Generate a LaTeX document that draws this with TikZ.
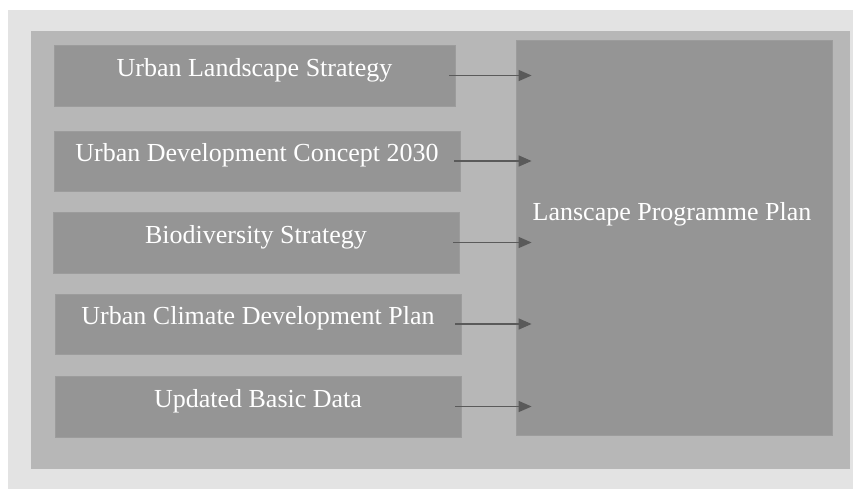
\documentclass[tikz,border=0pt]{standalone}
\usepackage{fontspec}
\setmainfont{Liberation Serif}
\usetikzlibrary{calc,arrows.meta}
\definecolor{back1}{HTML}{E3E3E3}
\definecolor{panel1}{HTML}{B7B7B7}
\definecolor{box1}{HTML}{959595}
\definecolor{edge1}{HTML}{9C9C9C}
\definecolor{arrow1}{HTML}{5A5A5A}

\begin{document}
\begin{tikzpicture}[x=1pt, y=-1pt,
  srcbox/.style={draw=edge1, line width=0.8pt, fill=box1, inner sep=0pt},
  boxtext/.style={text=white, inner sep=0pt, font=\fontsize{26}{30}\selectfont},
  flow/.style={arrow1, line width=1.3pt, -{Triangle[length=13pt,width=11pt]}}]

\useasboundingbox (0,0) rectangle (853,489);

% BACKGROUND
\fill[back1] (8,10) rectangle (853,489);
\fill[panel1] (31,31) rectangle (850,469);

% Source boxes (left column)
\node[srcbox, minimum width=401pt, minimum height=61pt] (urb) at (254.5,75.5) {};
\node[boxtext] (urb-t) at ($(urb)+(0,-5)$) {Urban Landscape Strategy};

\node[srcbox, minimum width=406pt, minimum height=60pt] (dev) at (257,161) {};
\node[boxtext] (dev-t) at ($(dev)+(0,-5.5)$) {Urban Development Concept 2030};

\node[srcbox, minimum width=406pt, minimum height=61pt] (bio) at (256,242.5) {};
\node[boxtext] (bio-t) at ($(bio)+(0,-5.5)$) {Biodiversity Strategy};

\node[srcbox, minimum width=406pt, minimum height=60pt] (clim) at (258,324) {};
\node[boxtext] (clim-t) at ($(clim)+(0,-5.5)$) {Urban Climate Development Plan};

\node[srcbox, minimum width=406pt, minimum height=61pt] (data) at (258,406.5) {};
\node[boxtext] (data-t) at ($(data)+(0,-5.5)$) {Updated Basic Data};

% Target box (right)
\node[srcbox, minimum width=316pt, minimum height=395pt] (plan) at (674,237.5) {};
\node[boxtext] (plan-t) at ($(plan)+(-2,-23.5)$) {Lanscape Programme Plan};

% Arrows
\foreach \src in {urb,dev,bio,clim,data}
  \draw[flow] ([xshift=-6pt]\src.east) -- ([xshift=16pt]\src.east -| plan.west);

\end{tikzpicture}
\end{document}
